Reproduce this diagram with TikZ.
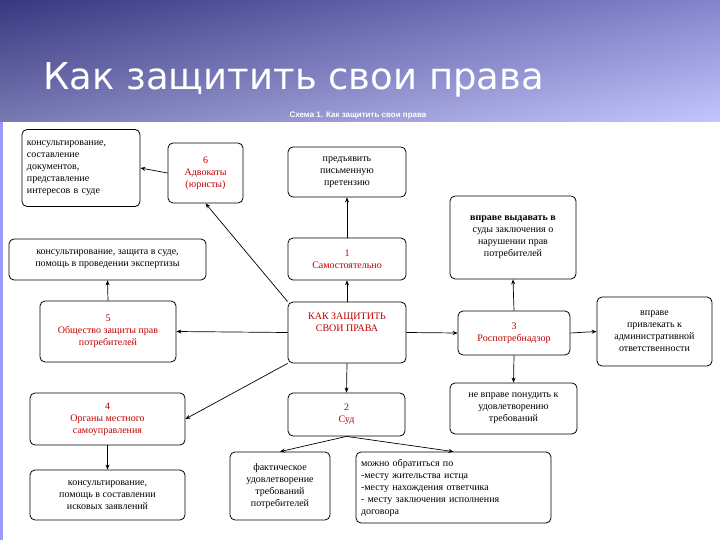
\documentclass[tikz,border=0pt]{standalone}
\usepackage{fontspec}
\setmainfont{Liberation Serif}
\newfontfamily\titlefont{DejaVu Sans}
\newfontfamily\subfont{Liberation Sans}
\usetikzlibrary{arrows.meta}
\begin{document}
\begin{tikzpicture}[x=1pt,y=-1pt,
  bx/.style={draw,rounded corners=5pt,line width=0.8pt,fill=white,align=center,font=\fontsize{10}{12}\selectfont,inner sep=2pt},
  rd/.style={text=red!75!black},
  ar/.style={-{Stealth[length=5pt,width=4pt]},line width=0.7pt}]
\shade[top color=blue!45!black!90,bottom color=blue!25!white] (0,0) rectangle (720,125);
\shade[left color=blue!30!black!70,right color=blue!20!white,opacity=0.6] (0,0) rectangle (720,125);
\fill[blue!40!white] (0,122) rectangle (3,540);
\fill[white] (3,122) rectangle (720,540);
\node[anchor=west,text=white,font=\titlefont\fontsize{37}{40}\selectfont] (title) at (40,80) {Как защитить свои права};
\node[text=white,font=\subfont\bfseries\fontsize{8}{9}\selectfont] (sub) at (358,116) {Схема 1. Как защитить свои права};
\node[bx,minimum width=118,minimum height=77,align=left,text width=108] (A) at (81,168) {консультирование,\\составление\\документов,\\представление\\интересов в суде};
\node[bx,rd,minimum width=75,minimum height=60] (B) at (205.5,173) {6\\Адвокаты\\(юристы)};
\node[bx,minimum width=118,minimum height=50] (C) at (347,172) {предъявить\\письменную\\претензию};
\node[bx,minimum width=126,minimum height=83] (D) at (513,237.5) {\textbf{вправе выдавать в}\\суды заключения о\\нарушении прав\\потребителей};
\node[bx,minimum width=197,minimum height=41] (E) at (107.5,259.5) {консультирование, защита в суде,\\помощь в проведении экспертизы};
\node[bx,rd,minimum width=118,minimum height=42] (F) at (347,259) {1\\Самостоятельно};
\node[bx,rd,minimum width=136,minimum height=61] (G) at (108,331.5) {5\\Общество защиты прав\\потребителей};
\node[bx,rd,minimum width=118,minimum height=61] (H) at (347,332.5) {КАК ЗАЩИТИТЬ\\СВОИ ПРАВА\\[8pt]};
\node[bx,rd,minimum width=112,minimum height=44] (I) at (514,333) {3\\Роспотребнадзор};
\node[bx,minimum width=115,minimum height=69] (J) at (654.5,331.5) {вправе\\привлекать к\\административной\\ответственности};
\node[bx,rd,minimum width=155,minimum height=52] (K) at (107.5,419) {4\\Органы местного\\самоуправления};
\node[bx,rd,minimum width=117,minimum height=43] (L) at (346.5,414.5) {2\\Суд};
\node[bx,minimum width=127,minimum height=51] (M) at (513.5,408.5) {не вправе понудить к\\удовлетворению\\требований};
\node[bx,minimum width=155,minimum height=50] (N) at (107.5,495) {консультирование,\\помощь в составлении\\исковых заявлений};
\node[bx,minimum width=100,minimum height=68] (O) at (280,486) {фактическое\\удовлетворение\\требований\\потребителей};
\node[bx,minimum width=195,minimum height=71,align=left,text width=185] (P) at (453.5,487.5) {можно обратиться по\\-месту жительства истца\\-месту нахождения ответчика\\- месту заключения исполнения\\договора};
\draw[ar] (B.west) -- (A.east);
\draw[ar] (H.north west) -- (B.south);
\draw[ar] (F.north) -- (C.south);
\draw[ar] (H.north) -- (F.south);
\draw[ar] (G.north) -- (E.south);
\draw[ar] (H.west) -- (G.east);
\draw[ar] (H.east) -- (I.west);
\draw[ar] (I.north) -- (D.south);
\draw[ar] (I.east) -- (J.west);
\draw[ar] (I.south) -- (M.north);
\draw[ar] (H.south west) -- (K.east);
\draw[ar] (H.south) -- (L.north);
\draw[ar] (L.south) -- (O.north);
\draw[ar] (L.south) -- (P.north);
\draw[ar] (K.south) -- (N.north);
\end{tikzpicture}
\end{document}
